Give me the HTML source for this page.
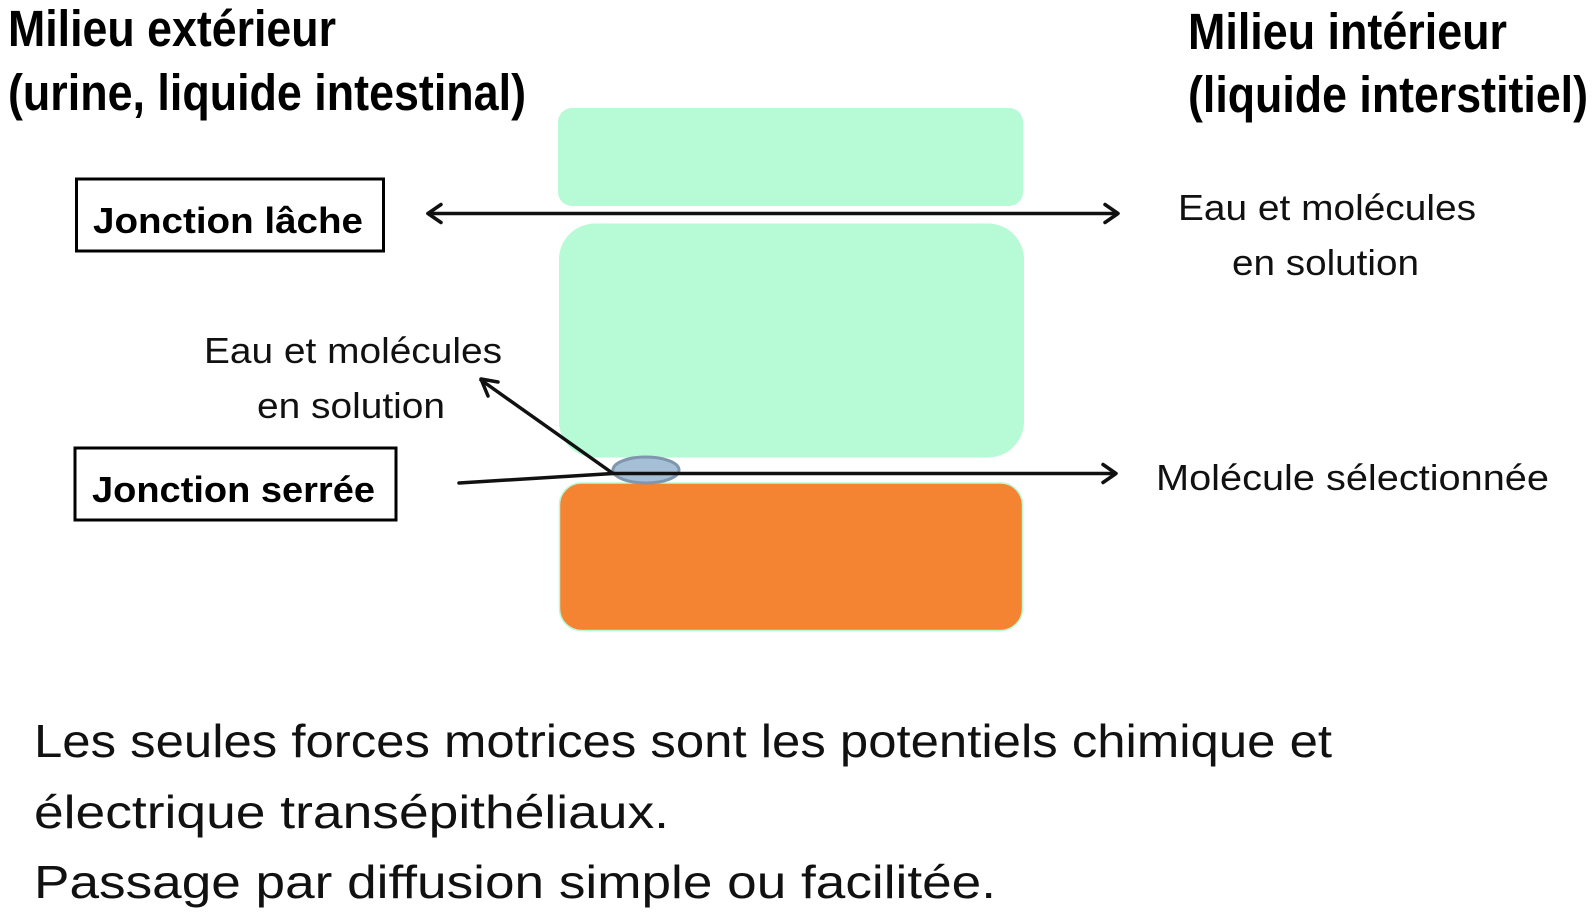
<!DOCTYPE html>
<html><head><meta charset="utf-8"><style>
html,body{margin:0;padding:0;background:#fff}
svg{display:block}
text{font-family:"Liberation Sans",sans-serif;fill:#111}
.t{font-weight:bold;font-size:51px;fill:#000}
.l{font-size:36px}
.b{font-size:46px}
.j{font-size:36px;font-weight:bold;fill:#000}
</style></head><body>
<svg width="1592" height="916" viewBox="0 0 1592 916" xmlns="http://www.w3.org/2000/svg">
<rect x="558" y="108" width="465" height="98" rx="14" fill="#B6FAD6"/>
<rect x="559" y="223.500" width="465" height="234" rx="36" fill="#B6FAD6"/>
<rect x="559.500" y="483" width="463" height="147.500" rx="22" fill="#F48332" stroke="#B6FAD6" stroke-width="1.500"/>
<ellipse cx="646" cy="470" rx="33" ry="13" fill="#A5BFD6" stroke="#8096AE" stroke-width="3"/>
<g fill="none" stroke="#111" stroke-width="3.500" stroke-linecap="round" stroke-linejoin="round">
<path d="M428 213.500H1116"/><path d="M441 204.500L428 213.500L441 222.500"/><path d="M1105 204.500L1118 213.500L1105 222.500"/>
<path d="M459 483L613 473.500H1114"/><path d="M1103 464.500L1116 473.500L1103 482.500"/>
<path d="M613 473.500L481 380"/><path d="M498 382L481 379L488 396"/>
</g>
<rect x="76.500" y="179" width="307" height="72" fill="#fff" stroke="#000" stroke-width="3"/>
<rect x="75" y="448" width="321" height="72" fill="#fff" stroke="#000" stroke-width="3"/>
<text class="t" x="8" y="46" textLength="328" lengthAdjust="spacingAndGlyphs">Milieu extérieur</text>
<text class="t" x="8" y="110" textLength="518" lengthAdjust="spacingAndGlyphs">(urine, liquide intestinal)</text>
<text class="t" x="1188" y="49" textLength="319" lengthAdjust="spacingAndGlyphs">Milieu intérieur</text>
<text class="t" x="1188" y="112" textLength="400" lengthAdjust="spacingAndGlyphs">(liquide interstitiel)</text>
<text class="j" x="93" y="233" textLength="270" lengthAdjust="spacingAndGlyphs">Jonction lâche</text>
<text class="j" x="92" y="502" textLength="283" lengthAdjust="spacingAndGlyphs">Jonction serrée</text>
<text class="l" x="1178" y="220" textLength="298" lengthAdjust="spacingAndGlyphs">Eau et molécules</text>
<text class="l" x="1232" y="275" textLength="187" lengthAdjust="spacingAndGlyphs">en solution</text>
<text class="l" x="204" y="363" textLength="298" lengthAdjust="spacingAndGlyphs">Eau et molécules</text>
<text class="l" x="257" y="418" textLength="188" lengthAdjust="spacingAndGlyphs">en solution</text>
<text class="l" x="1156" y="490" textLength="393" lengthAdjust="spacingAndGlyphs">Molécule sélectionnée</text>
<text class="b" x="34" y="757" textLength="1298" lengthAdjust="spacingAndGlyphs">Les seules forces motrices sont les potentiels chimique et</text>
<text class="b" x="34" y="828" textLength="635" lengthAdjust="spacingAndGlyphs">électrique transépithéliaux.</text>
<text class="b" x="34" y="898" textLength="962" lengthAdjust="spacingAndGlyphs">Passage par diffusion simple ou facilitée.</text>
</svg>
</body></html>
